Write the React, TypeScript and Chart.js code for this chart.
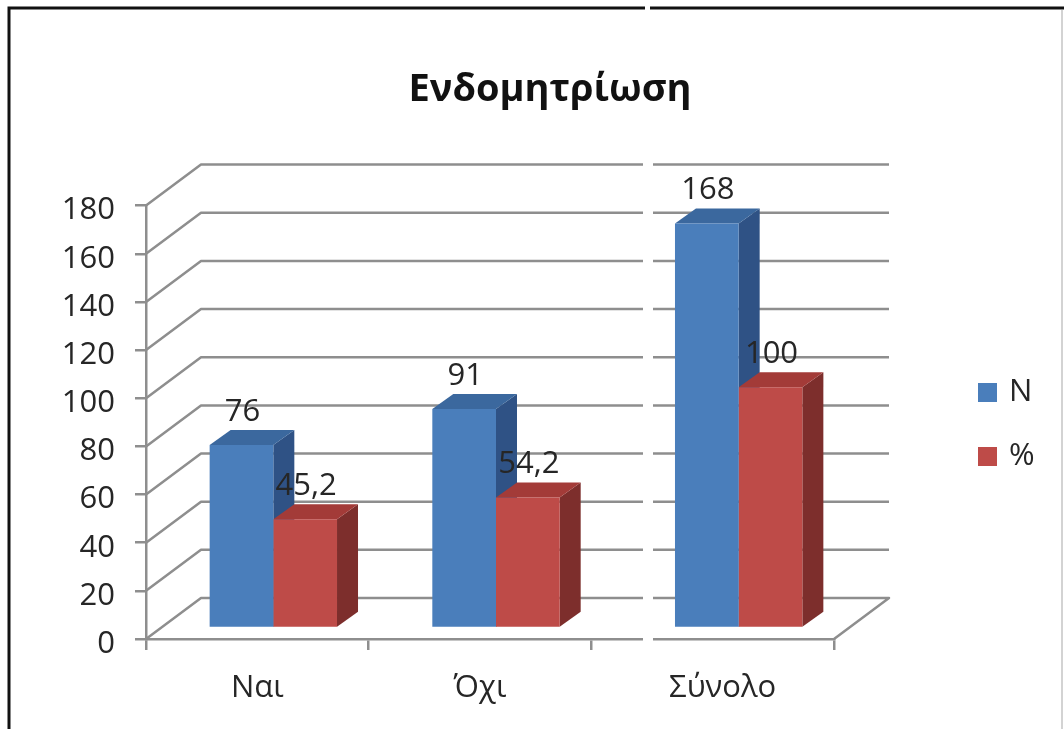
import React, { useEffect, useRef } from "react";
import { Chart, registerables } from "chart.js";

Chart.register(...registerables);

const titleText = "Ενδομητρίωση";
const categories = ["Ναι", "Όχι", "Σύνολο"];
const seriesN = [76, 91, 168];
const seriesPct = [45.2, 54.2, 100];

const FONT = '"Open Sans", sans-serif';
const GRID = "#8e8e8e";
const TEXT = "#262626";
const BLUE = { front: "#4a7ebb", top: "#3b689e", side: "#2f5285" };
const RED = { front: "#be4b48", top: "#a33b38", side: "#7d2e2c" };
const PALETTES = [BLUE, RED];
const WALL_DX = 55;
const WALL_DY = 41;
const BAR_DX = 16;
const BAR_DY = 11;
const SIDE_DX = 21;
const SIDE_DY = 15;
const STITCH_X = 640;
const STITCH_SHIFT = 20;
const GAP_FROM = 643;
const GAP_TO = 653;
const STITCH_TOP = 150;
const Y_LABEL_NUDGE = 5;

const chart3d = {
  id: "chart3d",
  afterLayout(chart: any) {
    const lg = chart.legend;
    const pad = lg.options.labels.padding;
    lg.left = 961.5 - pad;
    lg.right = lg.left + 200;
    lg.top = 377 - pad;
    lg.bottom = lg.top + 200;
    chart.titleBlock.left = 0;
    chart.titleBlock.right = 1100;
  },
  beforeDraw(chart: any) {
    const { ctx, width, height, chartArea, scales } = chart;
    ctx.save();
    ctx.fillStyle = "#ffffff";
    ctx.fillRect(0, 0, width, height);
    ctx.restore();
    scales.y.getLabelItems(chartArea).forEach((item: any) => {
      const [tx, ty] = item.options.translation;
      if (!item.nudged) {
        item.options.translation = [tx, ty + Y_LABEL_NUDGE];
        item.nudged = true;
      }
    });
  },
  beforeDatasetsDraw(chart: any) {
    const { ctx, chartArea, scales } = chart;
    ctx.save();
    ctx.strokeStyle = GRID;
    ctx.lineWidth = 2.5;
    ctx.lineJoin = "round";
    scales.y.ticks.forEach((t: any) => {
      const y = scales.y.getPixelForValue(t.value);
      ctx.beginPath();
      ctx.moveTo(chartArea.left, y);
      ctx.lineTo(chartArea.left + WALL_DX, y - WALL_DY);
      ctx.lineTo(chartArea.right + WALL_DX, y - WALL_DY);
      if (t.value === 0) ctx.lineTo(chartArea.right, y);
      ctx.stroke();
    });
    ctx.restore();

    // side and top faces, N first so that the % faces sit over them
    ctx.save();
    ctx.translate(BAR_DX, -BAR_DY);
    chart.data.datasets.forEach((_: any, i: number) => {
      const pal = PALETTES[i];
      chart.getDatasetMeta(i).data.forEach((el: any) => {
        const { x, y, base, width } = el.getProps(["x", "y", "base", "width"], true);
        const r = x + width / 2;
        const l = x - width / 2;
        ctx.fillStyle = pal.side;
        ctx.beginPath();
        ctx.moveTo(r, y);
        ctx.lineTo(r + SIDE_DX, y - SIDE_DY);
        ctx.lineTo(r + SIDE_DX, base - SIDE_DY);
        ctx.lineTo(r, base);
        ctx.closePath();
        ctx.fill();
        ctx.fillStyle = pal.top;
        ctx.beginPath();
        ctx.moveTo(l, y);
        ctx.lineTo(l + SIDE_DX, y - SIDE_DY);
        ctx.lineTo(r + SIDE_DX, y - SIDE_DY);
        ctx.lineTo(r, y);
        ctx.closePath();
        ctx.fill();
      });
    });
    ctx.restore();
  },
  beforeDatasetDraw(chart: any) {
    chart.ctx.save();
    chart.ctx.translate(BAR_DX, -BAR_DY);
  },
  afterDatasetDraw(chart: any) {
    chart.ctx.restore();
  },
  afterDatasetsDraw(chart: any) {
    const { ctx } = chart;
    ctx.save();
    ctx.font = `31px ${FONT}`;
    ctx.fillStyle = TEXT;
    ctx.textAlign = "center";
    ctx.textBaseline = "middle";
    chart.data.datasets.forEach((ds: any, i: number) => {
      chart.getDatasetMeta(i).data.forEach((el: any, j: number) => {
        const label = String(ds.data[j]).replace(".", ",");
        ctx.fillText(label, el.x + BAR_DX + 1, el.y - BAR_DY - 33);
      });
    });
    ctx.restore();
  },
  afterDraw(chart: any) {
    const { ctx, canvas, width, height } = chart;
    const h = height - STITCH_TOP;
    ctx.save();
    ctx.drawImage(canvas, STITCH_X, STITCH_TOP, width - STITCH_X - STITCH_SHIFT, h,
      STITCH_X + STITCH_SHIFT, STITCH_TOP, width - STITCH_X - STITCH_SHIFT, h);
    ctx.drawImage(canvas, STITCH_X, STITCH_TOP, 1, h, STITCH_X, STITCH_TOP, STITCH_SHIFT, h);
    ctx.fillStyle = "#ffffff";
    ctx.fillRect(GAP_FROM, STITCH_TOP, GAP_TO - GAP_FROM, h);
    // outer frame
    ctx.strokeStyle = "#111111";
    ctx.lineWidth = 3;
    ctx.beginPath();
    ctx.moveTo(9, height);
    ctx.lineTo(9, 8);
    ctx.lineTo(645, 8);
    ctx.moveTo(650, 8);
    ctx.lineTo(width, 8);
    ctx.stroke();
    ctx.strokeStyle = "#c4c4c4";
    ctx.lineWidth = 1.5;
    ctx.beginPath();
    ctx.moveTo(1062, 10);
    ctx.lineTo(1062, height);
    ctx.stroke();
    ctx.restore();
  },
};

export default function App() {
  const ref = useRef<HTMLCanvasElement | null>(null);
  useEffect(() => {
    document.body.style.margin = "0";
    const chart = new Chart(ref.current as HTMLCanvasElement, {
      type: "bar",
      data: {
        labels: categories,
        datasets: [
          { label: "N", data: seriesN, backgroundColor: BLUE.front, clip: false } as any,
          { label: "%", data: seriesPct, backgroundColor: RED.front, clip: false } as any,
        ],
      },
      options: {
        animation: false,
        responsive: false,
        devicePixelRatio: 1,
        layout: { padding: { left: 0, top: 0, right: 250, bottom: 0 } },
        datasets: { bar: { categoryPercentage: 0.572, barPercentage: 1 } },
        scales: {
          x: {
            grid: { drawOnChartArea: false, drawTicks: true, tickLength: 11, color: GRID, lineWidth: 2.5 },
            border: { color: GRID, width: 2.5 },
            ticks: { color: TEXT, font: { family: FONT, size: 31 }, padding: 20, maxRotation: 0 },
            afterFit(s: any) { s.height = 90; },
          },
          y: {
            min: 0,
            max: 180,
            grid: { drawOnChartArea: false, drawTicks: true, tickLength: 11, color: GRID, lineWidth: 2.5 },
            border: { color: GRID, width: 2.5 },
            ticks: { stepSize: 20, color: TEXT, font: { family: FONT, size: 31 }, padding: 20 },
            afterFit(s: any) { s.width = 146; },
          },
        },
        plugins: {
          title: {
            display: true,
            text: titleText,
            color: "#111111",
            font: { family: FONT, size: 38, weight: "bold" },
            padding: { top: 67, bottom: 93 },
          },
          legend: {
            display: true,
            position: "chartArea",
            align: "start",
            labels: {
              boxWidth: 12,
              boxHeight: 12,
              padding: 33,
              color: TEXT,
              font: { family: FONT, size: 31 },
              generateLabels(chart: any) {
                return Chart.defaults.plugins.legend.labels.generateLabels(chart).map((item: any) => ({
                  ...item,
                  strokeStyle: item.fillStyle,
                  lineWidth: 7,
                }));
              },
            },
          },
          tooltip: { enabled: false },
        },
      } as any,
      plugins: [chart3d],
    });
    return () => chart.destroy();
  }, []);
  return (
    <canvas
      ref={ref}
      width={1064}
      height={729}
      style={{ display: "block", filter: "blur(0.5px)" }}
    />
  );
}
